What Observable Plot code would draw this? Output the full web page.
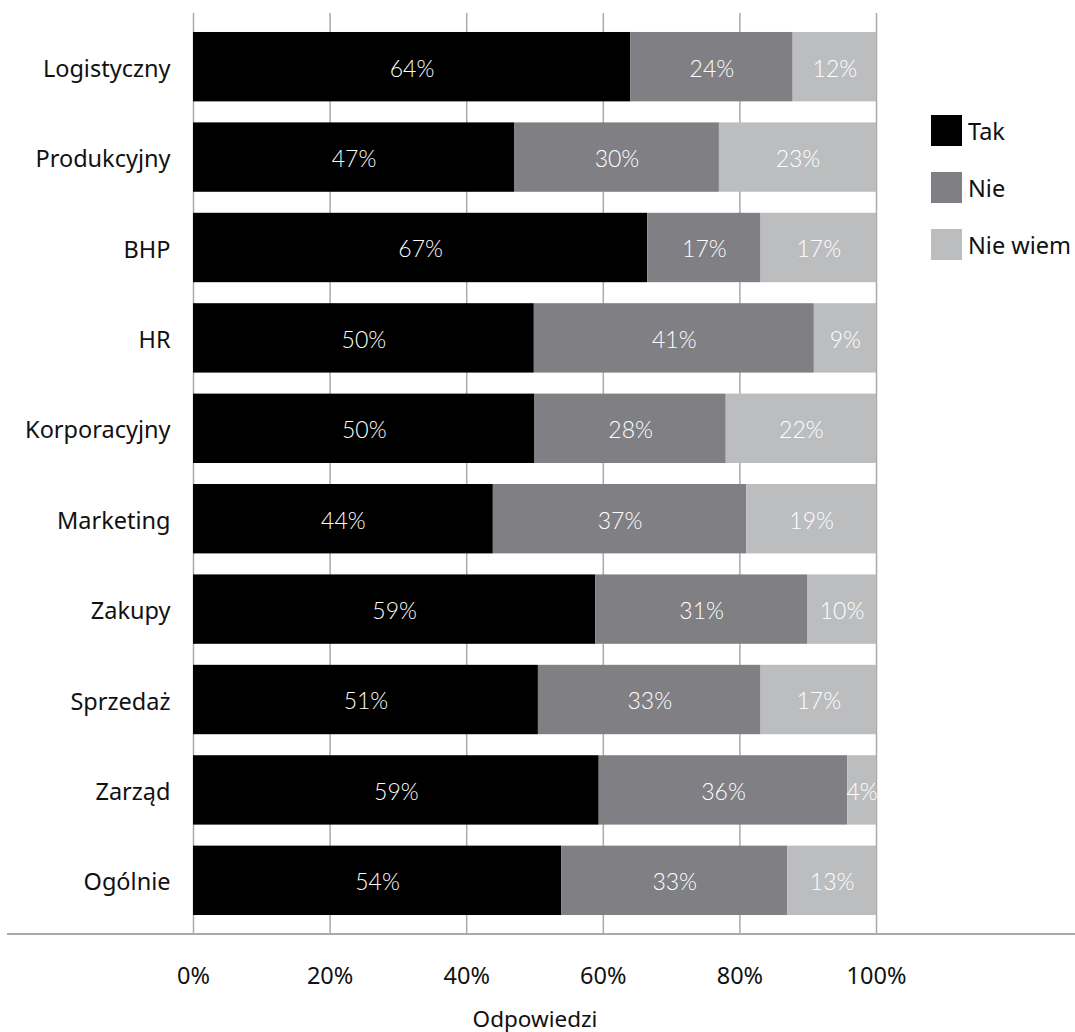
<!DOCTYPE html>
<html>
<head>
<meta charset="utf-8">
<script src="https://cdn.jsdelivr.net/npm/d3@7"></script>
<script src="https://cdn.jsdelivr.net/npm/@observablehq/plot@0.6"></script>
<style>
  body { margin: 0; background: #fff; }
  #wrap { position: relative; width: 1075px; height: 1032px; }
  #legend { position: absolute; left: 931px; top: 115px; font-family: "Noto Sans", sans-serif; font-size: 23.5px; color: #111; }
  .item { display: flex; align-items: center; height: 31px; margin-bottom: 26px; }
  .sw { width: 31px; height: 31px; margin-right: 6px; flex: none; }
</style>
</head>
<body>
<div id="wrap"><div id="legend"></div></div>
<script>
const categories = ["Logistyczny","Produkcyjny","BHP","HR","Korporacyjny","Marketing","Zakupy","Sprzedaż","Zarząd","Ogólnie"];
const responses = ["Tak","Nie","Nie wiem"];
const colors = ["#000000","#808084","#bcbdbf"];
const tak     = [64.0, 47.0, 66.5, 49.9, 50.0, 43.9, 58.9, 50.5, 59.4, 53.9];
const nie     = [23.8, 30.0, 16.6, 41.0, 28.0, 37.1, 31.0, 32.6, 36.4, 33.1];
const nieWiem = [12.2, 23.0, 16.9,  9.1, 22.0, 19.0, 10.1, 16.9,  4.2, 13.0];
const xTicks = [0, 20, 40, 60, 80, 100];

const series = [tak, nie, nieWiem];
const data = [];
categories.forEach((c, i) => {
  responses.forEach((r, j) => data.push({cat: c, resp: r, value: series[j][i]}));
});

const W = 1075, H = 1032;
const chart = Plot.plot({
  width: W, height: H,
  marginLeft: 193, marginRight: 199, marginTop: 13, marginBottom: 98,
  style: {fontFamily: "Noto Sans, sans-serif", fontSize: "23px", color: "#111", background: "#fff"},
  x: {domain: [0, 100], axis: null},
  y: {domain: categories, padding: 0.2325, paddingOuter: 0.21, round: false, axis: null},
  color: {domain: responses, range: colors},
  marks: [
    Plot.ruleX(xTicks, {stroke: "#aaaaaa", strokeWidth: 1.5}),
    Plot.barX(data, Plot.stackX({x: "value", y: "cat", fill: "resp", order: null})),
    Plot.text(data, Plot.stackX({x: "value", y: "cat", order: null, dy: 2,
      text: d => Math.round(d.value) + "%", fill: "white",
      fontFamily: "Lato, sans-serif", fontWeight: 300, fontSize: 23})),
    Plot.axisY({tickSize: 0, tickPadding: 23, fontSize: 23.5, dy: 2, label: null}),
    Plot.axisX({ticks: xTicks, tickSize: 0, tickPadding: 33, tickFormat: d => d + "%", fontSize: 23.5, style: {letterSpacing: "4px"}, label: null}),
    Plot.text(["Odpowiedzi"], {frameAnchor: "bottom", dy: 92, fontSize: 22.5})
  ]
});

d3.select(chart).append("line")
  .attr("x1", 7).attr("x2", W)
  .attr("y1", H - 98).attr("y2", H - 98)
  .attr("stroke", "#aaaaaa").attr("stroke-width", 2);

document.getElementById("wrap").prepend(chart);
chart.style.position = "absolute"; chart.style.left = "0"; chart.style.top = "0";

const legend = document.getElementById("legend");
responses.forEach((r, i) => {
  const it = document.createElement("div"); it.className = "item";
  const sw = document.createElement("div"); sw.className = "sw"; sw.style.background = colors[i];
  const t = document.createElement("span"); t.textContent = r;
  it.appendChild(sw); it.appendChild(t); legend.appendChild(it);
});
</script>
</body>
</html>
